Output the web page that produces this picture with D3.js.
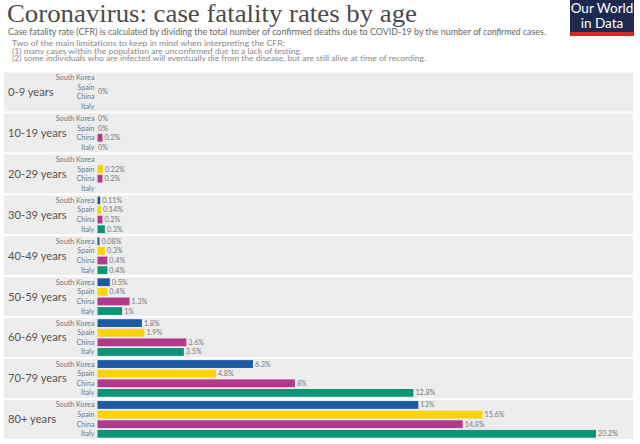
<!DOCTYPE html>
<html><head><meta charset="utf-8">
<script src="https://cdn.jsdelivr.net/npm/d3@7"></script>
<style>
body{margin:0;background:#fff;}
svg{display:block;font-family:Lato,"Noto Sans",sans-serif;}
</style></head>
<body><svg id="c" width="640" height="444"></svg>
<script>
const ageGroups = ["0-9 years","10-19 years","20-29 years","30-39 years","40-49 years","50-59 years","60-69 years","70-79 years","80+ years"];
const countries = ["South Korea","Spain","China","Italy"];
const southKorea = [null, 0, null, 0.11, 0.08, 0.5, 1.8, 6.3, 13];
const spain      = [null, 0, 0.22, 0.14, 0.3, 0.4, 1.9, 4.8, 15.6];
const china      = [null, 0.2, 0.2, 0.2, 0.4, 1.3, 3.6, 8, 14.8];
const italy      = [null, 0, null, 0.3, 0.4, 1, 3.5, 12.8, 20.2];
const groupNotes = ["0%", null, null, null, null, null, null, null, null];
const colors = ["#1a5aa6", "#fbd300", "#b23a8d", "#0c9478"];

const series = [southKorea, spain, china, italy];
const svg = d3.select("#c");

// Header
svg.append("text").attr("x",7).attr("y",21.5)
  .attr("font-family","'Liberation Serif','DejaVu Serif',serif")
  .attr("font-size",25.5).attr("fill","#4a4a4a")
  .attr("textLength",410).attr("lengthAdjust","spacingAndGlyphs")
  .text("Coronavirus: case fatality rates by age");
const sub = svg.append("text").attr("x",8).attr("y",35).attr("font-size",8.8).attr("fill","#666")
  .attr("textLength",538).attr("lengthAdjust","spacingAndGlyphs");
sub.append("tspan").text("Case fatality rate (CFR) is calculated by dividing the total number of confirmed deaths due to COVID-19 by the number of ");
sub.append("tspan").attr("font-style","italic").text("confirmed");
sub.append("tspan").text(" cases.");
const notes = ["Two of the main limitations to keep in mind when interpreting the CFR:",
  "(1) many cases within the population are unconfirmed due to a lack of testing.",
  "(2) some individuals who are infected will eventually die from the disease, but are still alive at time of recording."];
const noteLens = [273, 290, 414];
notes.forEach((t,i)=>svg.append("text").attr("x",12).attr("y",46+i*7.6).attr("font-size",7.1)
  .attr("fill","#888").attr("textLength",noteLens[i]).attr("lengthAdjust","spacingAndGlyphs").text(t));

// Logo
svg.append("rect").attr("x",570).attr("y",0).attr("width",64).attr("height",36).attr("fill","#1d2a4f");
svg.append("rect").attr("x",570).attr("y",32).attr("width",64).attr("height",4).attr("fill","#d42b21");
svg.append("text").attr("x",602).attr("y",13).attr("text-anchor","middle").attr("font-size",13.5).attr("fill","#fff").text("Our World");
svg.append("text").attr("x",602).attr("y",27.5).attr("text-anchor","middle").attr("font-size",13.5).attr("fill","#fff").text("in Data");

// Chart
const panelTop = 72.5, panelPitch = 40.7, panelH = 38.6;
const x = d3.scaleLinear().domain([0, 20.2]).range([97.5, 596]);
const yPanel = d3.scaleBand().domain(ageGroups).range([panelTop, panelTop + panelPitch*ageGroups.length]).paddingInner(2/panelPitch).paddingOuter(0);
const yRow = d3.scaleBand().domain(countries).range([0.4, panelH]).paddingInner(0.19).paddingOuter(0.08);

const panels = svg.selectAll("g.panel").data(ageGroups).join("g").attr("class","panel")
  .attr("transform",d=>`translate(0,${yPanel(d)})`);
panels.append("rect").attr("x",4).attr("width",629).attr("height",yPanel.bandwidth()).attr("fill","#ededed");
panels.append("text").attr("x",8).attr("y",yPanel.bandwidth()/2+4).attr("font-size",11.2).attr("fill","#555").text(d=>d);

panels.each(function(age, gi){
  const g = d3.select(this);
  countries.forEach((c, ci)=>{
    const yc = yRow(c) + yRow.bandwidth()/2;
    g.append("text").attr("x",94.5).attr("y",yc+2.5).attr("text-anchor","end").attr("font-size",7.2).attr("fill","#777").text(c);
    const v = series[ci][gi];
    if (v === null) return;
    if (v > 0) g.append("rect").attr("x",x(0)).attr("y",yRow(c)).attr("width",x(v)-x(0)).attr("height",yRow.bandwidth()).attr("fill",colors[ci]);
    g.append("text").attr("x",x(v)+(v>0?2:0.5)).attr("y",yc+2.5).attr("font-size",7.2).attr("fill","#777").text(v+"%");
  });
  if (groupNotes[gi]) {
    g.append("text").attr("x",x(0)+0.5).attr("y",yPanel.bandwidth()/2+2.5).attr("font-size",7.2).attr("fill","#777").text(groupNotes[gi]);
  }
});
</script></body></html>
